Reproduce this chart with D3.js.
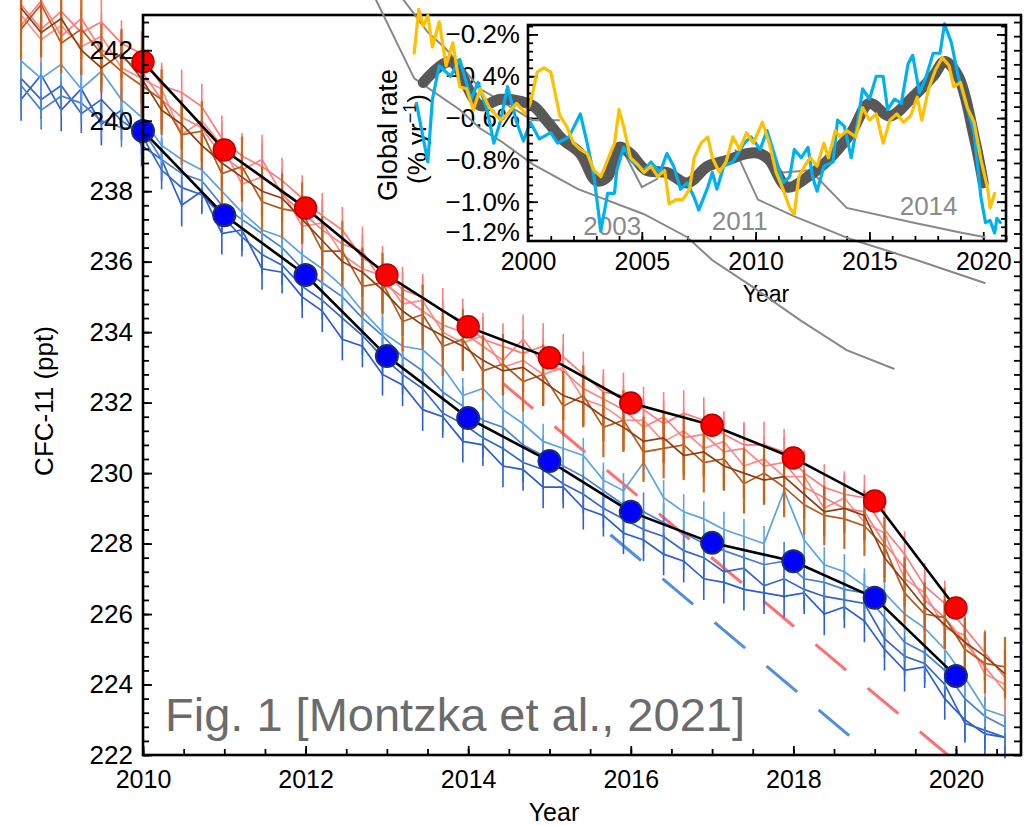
<!DOCTYPE html>
<html>
<head>
<meta charset="utf-8">
<script src="https://cdn.jsdelivr.net/npm/d3@7"></script>
<style>
  body { margin: 0; background: #fff; }
  text { font-family: "Liberation Sans", Arial, Helvetica, sans-serif; }
</style>
</head>
<body>
<div id="chart"></div>
<script>
// ---- main panel data (ppt) ----
const annualYears = [2010, 2011, 2012, 2013, 2014, 2015, 2016, 2017, 2018, 2019, 2020];
const redAnnual  = [241.67, 239.17, 237.52, 235.62, 234.15, 233.27, 231.99, 231.36, 230.43, 229.21, 226.17];
const blueAnnual = [239.71, 237.32, 235.62, 233.32, 231.56, 230.34, 228.90, 228.02, 227.50, 226.46, 224.24];

// station records, roughly quarterly from mid 2008
const stationYears = d3.range(2008.5, 2020.65, 0.247);
const pinkA = [243.3,242.6,243.1,242.5,242.8,242.2, 241.9,241.0,240.8,240.4, 239.5,239.0,238.7,238.3, 237.8,237.3,236.9,236.1, 235.8,235.2,235.0,234.6, 234.3,233.8,233.6,233.4, 233.6,233.3,232.8,232.3, 232.2,231.8,231.4,231.7, 231.5,231.1,230.8,230.8, 230.6,230.0,229.6,229.4, 229.3,228.4,227.7,226.8, 226.3,225.6,224.9,224.2];
const pinkB = [242.7,243.4,242.4,242.9,242.0,241.8, 241.4,240.6,240.1,239.8, 239.0,238.6,238.9,237.9, 237.4,236.9,236.5,236.3, 235.4,235.0,234.6,234.2, 234.0,233.6,233.2,233.8, 233.1,232.9,232.4,232.1, 231.8,231.3,231.6,231.0, 231.1,230.6,230.7,230.2, 230.3,229.6,229.3,229.0, 228.9,228.0,227.3,226.4, 225.9,225.2,224.5,223.8];
const pinkC = [243.0,242.3,242.7,242.1,242.4,241.5, 241.2,240.9,239.6,240.0, 239.3,238.2,238.4,238.0, 237.0,237.1,236.2,235.8, 235.6,234.8,234.9,234.0, 233.7,233.9,233.0,233.2, 232.8,233.0,232.1,231.9, 231.5,231.5,230.9,231.2, 230.7,230.9,230.2,230.4, 229.9,229.9,229.0,229.3, 228.6,228.3,227.0,226.6, 225.6,225.4,224.3,224.0];
const brownA = [243.2,242.5,242.9,242.0,241.5,241.9, 241.2,240.3,239.9,239.3, 238.8,238.4,238.0,237.8, 237.2,236.6,236.0,235.7, 235.2,234.6,234.2,233.9, 233.6,233.2,232.9,233.0, 232.6,232.2,232.0,231.6, 231.3,230.9,231.0,230.5, 230.6,230.2,230.0,229.8, 229.9,229.4,228.9,229.0, 228.8,227.6,226.9,226.2, 225.7,225.2,224.8,224.3];
const brownB = [242.6,243.3,242.2,242.6,241.9,241.4, 241.0,240.6,239.6,239.7, 238.5,238.7,237.7,237.5, 237.4,236.3,236.3,235.3, 235.4,234.3,234.5,233.6, 233.8,232.9,233.1,232.6, 232.8,231.9,232.2,231.3, 231.5,230.6,230.7,230.8, 230.3,230.4,229.7,230.0, 229.6,229.1,228.8,228.7, 228.5,227.9,226.6,226.0, 225.9,225.0,224.6,224.5];
const blueA = [241.2,240.6,241.0,240.2,240.6,240.0, 239.6,238.6,238.1,237.9, 237.3,236.7,236.2,235.9, 235.3,234.9,234.4,233.9, 233.3,232.8,232.4,231.7, 231.4,231.0,230.7,230.3, 230.1,229.7,229.4,229.0, 228.7,228.4,228.2,227.8, 227.6,227.2,227.3,226.8, 227.0,226.7,226.5,226.4, 226.3,225.3,224.8,224.6, 224.0,222.9,222.7,222.5];
const blueB = [240.6,241.3,240.3,240.9,239.9,240.3, 239.3,238.9,237.6,238.0, 236.8,236.9,235.8,235.7, 235.0,234.6,233.8,233.6, 232.8,232.5,231.8,231.6, 230.9,230.8,230.2,230.1, 229.6,229.6,229.0,228.8, 228.3,228.1,227.7,227.5, 227.0,226.9,226.7,226.6, 226.5,226.6,226.0,226.2, 225.8,225.0,224.4,224.5, 223.6,223.0,222.6,222.5];
const blueC = [241.0,240.3,240.7,240.5,240.0,239.8, 239.8,238.9,238.5,238.3, 237.6,237.2,236.8,236.4, 235.8,235.4,235.0,234.4, 233.9,233.3,232.9,232.3, 231.9,231.5,231.3,230.8, 230.5,230.2,229.9,229.5, 229.1,228.9,228.6,228.3, 228.0,227.8,227.6,227.4, 227.5,227.0,226.9,226.7, 226.6,225.9,225.2,224.9, 224.4,223.6,223.1,222.8];
const lightBlue = [241.7,241.2,241.6,240.9,241.4,240.6, 240.1,239.3,238.9,238.6, 238.0,237.4,236.9,236.7, 236.2,235.8,235.3,234.6, 234.0,233.6,233.5,233.0, 232.2,232.4,231.8,231.4, 230.9,230.7,230.5,229.8, 229.5,230.3,229.3,228.9, 228.7,228.4,228.2,228.0, 229.5,228.1,227.4,227.2, 226.8,226.6,226.0,225.6, 225.0,224.2,223.3,223.1];
const stationErr = [0.6, 0.55, 0.55, 0.5, 0.65, 0.7, 0.65, 0.85, 0.7];

// extrapolated trends (visible part)
const redTrendYears = [2014.42, 2019.9];
const redTrendVals = [232.56, 222.0];
const blueTrendYears = [2015.75, 2018.97];
const blueTrendVals = [228.25, 222.0];

const mainXTicks = [2010, 2012, 2014, 2016, 2018, 2020];
const mainYTicks = [222, 224, 226, 228, 230, 232, 234, 236, 238, 240, 242];

// ---- inset data (% per yr) ----
const grayYears = [1995.4,1996.6,1997.9,1998.8,2000.2,2000.8,2001.5,2002.3,2003.0,2003.5,2004.0,2004.5,2005.2,2006.1,2007.0,2007.9,2008.8,2009.6,2010.2,2010.6,2011.4,2012.3,2013.1,2014.2,2015.0,2015.9,2016.9,2017.8,2018.3,2018.9,2019.6,2020.0];
const grayRate = [-0.43,-0.33,-0.54,-0.51,-0.54,-0.61,-0.70,-0.77,-0.90,-0.88,-0.74,-0.77,-0.85,-0.86,-0.91,-0.83,-0.80,-0.77,-0.77,-0.80,-0.93,-0.88,-0.81,-0.67,-0.53,-0.59,-0.50,-0.40,-0.33,-0.40,-0.69,-0.91];

const cyanYears = [1995.1,1995.6,1995.8,1996.1,1996.6,1997.0,1997.5,1997.8,1998.2,1998.5,1998.8,1999.1,1999.5,1999.8,2000.1,2000.5,2001.0,2001.3,2001.8,2002.3,2002.6,2002.9,2003.2,2003.5,2003.8,2003.9,2004.2,2004.6,2005.1,2005.4,2005.8,2006.1,2006.4,2006.7,2007.0,2007.3,2007.5,2007.9,2008.1,2008.3,2008.6,2009.0,2009.5,2009.8,2010.2,2010.5,2010.9,2011.2,2011.5,2011.7,2012.0,2012.3,2012.5,2012.7,2013.0,2013.4,2013.6,2013.9,2014.2,2014.5,2014.7,2015.0,2015.3,2015.6,2015.8,2016.1,2016.4,2016.7,2016.9,2017.2,2017.5,2017.8,2018.1,2018.3,2018.6,2018.9,2019.3,2019.6,2019.9,2020.1,2020.3,2020.5,2020.6,2020.75];
const cyanRate = [-0.53,-0.81,-0.51,-0.35,-0.40,-0.32,-0.51,-0.43,-0.56,-0.72,-0.61,-0.45,-0.62,-0.71,-0.62,-0.70,-0.67,-0.72,-0.69,-0.58,-0.72,-0.88,-1.14,-0.96,-0.96,-0.85,-0.74,-0.81,-0.85,-0.81,-0.86,-0.77,-0.83,-0.94,-0.91,-0.98,-1.04,-0.93,-0.86,-0.94,-0.83,-0.81,-0.72,-0.69,-0.75,-0.66,-0.80,-0.91,-0.88,-0.75,-0.79,-0.74,-0.88,-0.95,-0.83,-0.81,-0.61,-0.64,-0.79,-0.61,-0.46,-0.51,-0.40,-0.40,-0.56,-0.51,-0.53,-0.34,-0.30,-0.48,-0.40,-0.29,-0.29,-0.15,-0.24,-0.40,-0.55,-0.67,-0.98,-1.10,-1.09,-1.15,-1.08,-1.10];

const yellowYears = [1995.0,1995.2,1995.4,1995.6,1995.8,1996.1,1996.4,1996.7,1997.0,1997.3,1997.6,1997.9,1998.3,1998.8,1999.1,1999.5,1999.9,2000.1,2000.4,2000.7,2001.0,2001.4,2001.7,2002.0,2002.3,2002.6,2002.9,2003.2,2003.5,2003.8,2004.0,2004.2,2004.5,2004.8,2005.1,2005.4,2005.7,2006.0,2006.2,2006.5,2006.8,2007.1,2007.3,2007.6,2007.9,2008.1,2008.4,2008.7,2009.0,2009.3,2009.6,2009.9,2010.3,2010.6,2010.9,2011.2,2011.5,2011.7,2011.9,2012.2,2012.4,2012.7,2013.0,2013.2,2013.5,2013.7,2014.0,2014.4,2014.7,2015.0,2015.3,2015.6,2015.9,2016.2,2016.5,2016.8,2017.1,2017.3,2017.6,2017.9,2018.2,2018.5,2018.7,2019.0,2019.3,2019.6,2019.9,2020.2,2020.3,2020.5];
const yellowRate = [-0.29,-0.08,-0.16,-0.11,-0.26,-0.14,-0.35,-0.24,-0.45,-0.46,-0.56,-0.46,-0.55,-0.61,-0.58,-0.53,-0.58,-0.53,-0.38,-0.36,-0.38,-0.59,-0.64,-0.72,-0.75,-0.77,-0.85,-0.88,-0.80,-0.72,-0.56,-0.64,-0.79,-0.82,-0.86,-0.83,-0.88,-0.85,-1.01,-0.99,-0.99,-0.94,-0.79,-0.72,-0.69,-0.79,-0.86,-0.81,-0.69,-0.75,-0.67,-0.72,-0.62,-0.72,-0.86,-0.94,-1.03,-1.06,-0.88,-0.82,-0.79,-0.83,-0.72,-0.79,-0.66,-0.69,-0.66,-0.69,-0.55,-0.61,-0.58,-0.72,-0.61,-0.58,-0.62,-0.59,-0.50,-0.61,-0.46,-0.37,-0.31,-0.35,-0.45,-0.43,-0.55,-0.62,-0.80,-0.94,-1.03,-0.96];

// projections from given start years [year, rate]
const projA = [[1993.3,-0.03],[1995.0,-0.41],[1997.0,-0.56],[1997.9,-0.65],[1998.8,-0.71],[2000.2,-0.82],[2002.2,-0.94],[2005.1,-1.06],[2007.0,-1.17],[2008.1,-1.28],[2009.9,-1.41],[2012.0,-1.57],[2014.0,-1.71],[2016.1,-1.80]];
const projB = [[1994.5,-0.03],[1995.6,-0.19],[1996.4,-0.27],[1997.9,-0.46],[2000.2,-0.61],[2001.4,-0.61]];
const projC = [[2004.1,-0.74],[2005.0,-0.93],[2005.7,-0.89]];
const proj2011 = [[2009.1,-0.75],[2009.3,-0.80],[2010.1,-0.99],[2011.7,-1.07],[2014.2,-1.18],[2017.1,-1.28],[2020.1,-1.39]];
const proj2014 = [[2009.5,-0.75],[2011.2,-0.86],[2012.4,-0.85],[2014.0,-1.03],[2016.9,-1.10],[2019.1,-1.15],[2020.1,-1.17]];
const projLabels = ['2003', '2011', '2014'];
const projLabelYears = [2003.7, 2009.3, 2017.6];
const projLabelRates = [-1.16, -1.135, -1.065];

const insetXTicks = [2000, 2005, 2010, 2015, 2020];
const insetYTicks = [-1.2, -1.0, -0.8, -0.6, -0.4, -0.2];

// ---- drawing ----
const svg = d3.select('#chart').append('svg')
  .attr('width', 1033).attr('height', 825)
  .style('background', '#fff');

const x = d3.scaleLinear().domain([2010, 2020.8]).range([143, 1021]);
const y = d3.scaleLinear().domain([222, 243]).range([755, 15]);

// dashed trends under the data
function trend(years, vals, color) {
  svg.append('path')
    .datum(years.map((t, i) => [t, vals[i]]))
    .attr('d', d3.line().x(d => x(d[0])).y(d => y(d[1])))
    .attr('fill', 'none').attr('stroke', color)
    .attr('stroke-width', 3).attr('stroke-dasharray', '40,28');
}
trend(redTrendYears, redTrendVals, '#ff6f6f');
trend(blueTrendYears, blueTrendVals, '#4f8fdb');

const stations = [
  { vals: blueB, line: '#2c5cd6', bar: '#2c5cd6' },
  { vals: blueA, line: '#3466c4', bar: '#3466c4' },
  { vals: blueC, line: '#4a80d2', bar: '#4a80d2' },
  { vals: lightBlue, line: '#5ba3e2', bar: '#5ba3e2' },
  { vals: pinkC, line: '#ff8c8c', bar: '#ff8c8c' },
  { vals: pinkB, line: '#ff8080', bar: '#ff8080' },
  { vals: pinkA, line: '#ff7a7a', bar: '#ff7a7a' },
  { vals: brownB, line: '#b45a1c', bar: '#cc6a22' },
  { vals: brownA, line: '#8e3f12', bar: '#c4621e' }
];

const stLine = d3.line().x((d, i) => x(stationYears[i])).y(d => y(d));
stations.forEach((s, k) => {
  const g = svg.append('g');
  g.selectAll('line').data(s.vals).enter().append('line')
    .attr('x1', (d, i) => x(stationYears[i]))
    .attr('x2', (d, i) => x(stationYears[i]))
    .attr('y1', d => y(d - stationErr[k]))
    .attr('y2', d => y(d + stationErr[k]))
    .attr('stroke', s.bar).attr('stroke-width', k >= 7 ? 2.2 : 1.6);
  g.append('path').datum(s.vals)
    .attr('d', stLine)
    .attr('fill', 'none').attr('stroke', s.line).attr('stroke-width', 1.7);
});

// annual means
const annLine = d3.line().x((d, i) => x(annualYears[i])).y(d => y(d));
[redAnnual, blueAnnual].forEach(vals => {
  svg.append('path').datum(vals).attr('d', annLine)
    .attr('fill', 'none').attr('stroke', '#000').attr('stroke-width', 2.6);
});
svg.append('g').selectAll('circle').data(blueAnnual).enter().append('circle')
  .attr('cx', (d, i) => x(annualYears[i])).attr('cy', d => y(d)).attr('r', 11)
  .attr('fill', '#0000ff').attr('stroke', '#1c2f66').attr('stroke-width', 2);
svg.append('g').selectAll('circle').data(redAnnual).enter().append('circle')
  .attr('cx', (d, i) => x(annualYears[i])).attr('cy', d => y(d)).attr('r', 11)
  .attr('fill', '#ff0000').attr('stroke', '#b80000').attr('stroke-width', 1.5);

// main axes
function styleAxis(g, size) {
  g.select('.domain').remove();
  g.attr('font-family', '"Liberation Sans", Arial, sans-serif').attr('font-size', size);
  g.selectAll('line').attr('stroke', '#000').attr('stroke-width', 1.8);
  g.selectAll('text').attr('fill', '#000');
}
const yMinor = d3.range(222, 243.01, 0.4);
const xMinor = d3.range(2010, 2020.81, 0.5);

svg.append('g').attr('transform', 'translate(143,0)')
  .call(d3.axisLeft(y).tickValues(yMinor).tickSize(-6).tickFormat(''))
  .call(g => styleAxis(g, 26));
svg.append('g').attr('transform', 'translate(143,0)')
  .call(d3.axisLeft(y).tickValues(mainYTicks).tickSize(-9).tickPadding(10).tickFormat(d3.format('d')))
  .call(g => styleAxis(g, 26));
svg.append('g').attr('transform', 'translate(1021,0)')
  .call(d3.axisRight(y).tickValues(yMinor).tickSize(-7).tickFormat(''))
  .call(g => styleAxis(g, 26));
svg.append('g').attr('transform', 'translate(0,755)')
  .call(d3.axisBottom(x).tickValues(xMinor).tickSize(-6).tickFormat(''))
  .call(g => styleAxis(g, 25));
svg.append('g').attr('transform', 'translate(0,755)')
  .call(d3.axisBottom(x).tickValues(mainXTicks).tickSize(-9).tickPadding(15).tickFormat(d3.format('d')))
  .call(g => styleAxis(g, 25));

svg.append('rect').attr('x', 143).attr('y', 15).attr('width', 878).attr('height', 740)
  .attr('fill', 'none').attr('stroke', '#000').attr('stroke-width', 2.6);

svg.append('text').attr('x', 554).attr('y', 821).attr('text-anchor', 'middle')
  .attr('font-size', 25).text('Year');
svg.append('text').attr('transform', 'translate(53,401) rotate(-90)')
  .attr('text-anchor', 'middle').attr('font-size', 26).text('CFC-11 (ppt)');

svg.append('text').attr('x', 165).attr('y', 731)
  .attr('font-size', 47).attr('fill', '#6b6b6b')
  .text('Fig. 1 [Montzka et al., 2021]');

// ---- inset ----
const ix = d3.scaleLinear().domain([2000, 2021]).range([528, 1006]);
const iy = d3.scaleLinear().domain([-1.188, -0.155]).range([241, 25]);

const pct = d => '\u2212' + Math.abs(d).toFixed(1) + '%';
const iyMinor = d3.range(-1.16, -0.155, 0.04);
const ixMinor = d3.range(2000, 2021.01, 1);

svg.append('g').attr('transform', 'translate(528,0)')
  .call(d3.axisLeft(iy).tickValues(iyMinor).tickSize(-5).tickFormat(''))
  .call(g => styleAxis(g, 26));
const iLeft = svg.append('g').attr('transform', 'translate(528,0)')
  .call(d3.axisLeft(iy).tickValues(insetYTicks).tickSize(-10).tickPadding(8).tickFormat(pct))
  .call(g => styleAxis(g, 26));
const lowTick = iLeft.selectAll('.tick').filter(d => d < -1.19);
lowTick.select('line').remove();
lowTick.select('text').attr('transform', 'translate(0,-11)');

svg.append('g').attr('transform', 'translate(1006,0)')
  .call(d3.axisRight(iy).tickValues(iyMinor).tickSize(-5).tickFormat(''))
  .call(g => styleAxis(g, 26));
svg.append('g').attr('transform', 'translate(1006,0)')
  .call(d3.axisRight(iy).tickValues(insetYTicks.filter(v => v > -1.19)).tickSize(-9).tickFormat(''))
  .call(g => styleAxis(g, 26));
svg.append('g').attr('transform', 'translate(0,241)')
  .call(d3.axisBottom(ix).tickValues(ixMinor).tickSize(-5).tickFormat(''))
  .call(g => styleAxis(g, 25));
svg.append('g').attr('transform', 'translate(0,241)')
  .call(d3.axisBottom(ix).tickValues(insetXTicks).tickSize(-9).tickPadding(11).tickFormat(d3.format('d')))
  .call(g => styleAxis(g, 25));

svg.append('text').attr('x', 766).attr('y', 302).attr('text-anchor', 'middle')
  .attr('font-size', 23).text('Year');
svg.append('text').attr('transform', 'translate(397,135) rotate(-90)')
  .attr('text-anchor', 'middle').attr('font-size', 27).text('Global rate');
const unit = svg.append('text').attr('transform', 'translate(426,139) rotate(-90)')
  .attr('text-anchor', 'middle').attr('font-size', 26);
unit.append('tspan').text('(% yr');
unit.append('tspan').attr('font-size', 18).attr('dy', -10).text('\u22121');
unit.append('tspan').attr('dy', 10).text(')');

// projection lines
const pLine = d3.line().x(d => ix(d[0])).y(d => iy(d[1]));
[projA, projB, projC, proj2011, proj2014].forEach(p => {
  svg.append('path').datum(p).attr('d', pLine)
    .attr('fill', 'none').attr('stroke', '#888').attr('stroke-width', 2);
});
projLabels.forEach((t, i) => {
  svg.append('text').attr('x', ix(projLabelYears[i])).attr('y', iy(projLabelRates[i]))
    .attr('text-anchor', 'middle').attr('font-size', 26).attr('fill', '#8a8a8a').text(t);
});

function series(years, vals, color, w, curve) {
  svg.append('path').datum(vals)
    .attr('d', d3.line().x((d, i) => ix(years[i])).y(d => iy(d)).curve(curve || d3.curveLinear))
    .attr('fill', 'none').attr('stroke', color).attr('stroke-width', w)
    .attr('stroke-linejoin', 'round').attr('stroke-linecap', 'round');
}
series(grayYears, grayRate, '#585858', 11, d3.curveCatmullRom);
series(cyanYears, cyanRate, '#00b0f0', 3.2);
series(yellowYears, yellowRate, '#ffc000', 3.2);

svg.append('rect').attr('x', 528).attr('y', 25).attr('width', 478).attr('height', 216)
  .attr('fill', 'none').attr('stroke', '#000').attr('stroke-width', 2.6);
</script>
</body>
</html>
